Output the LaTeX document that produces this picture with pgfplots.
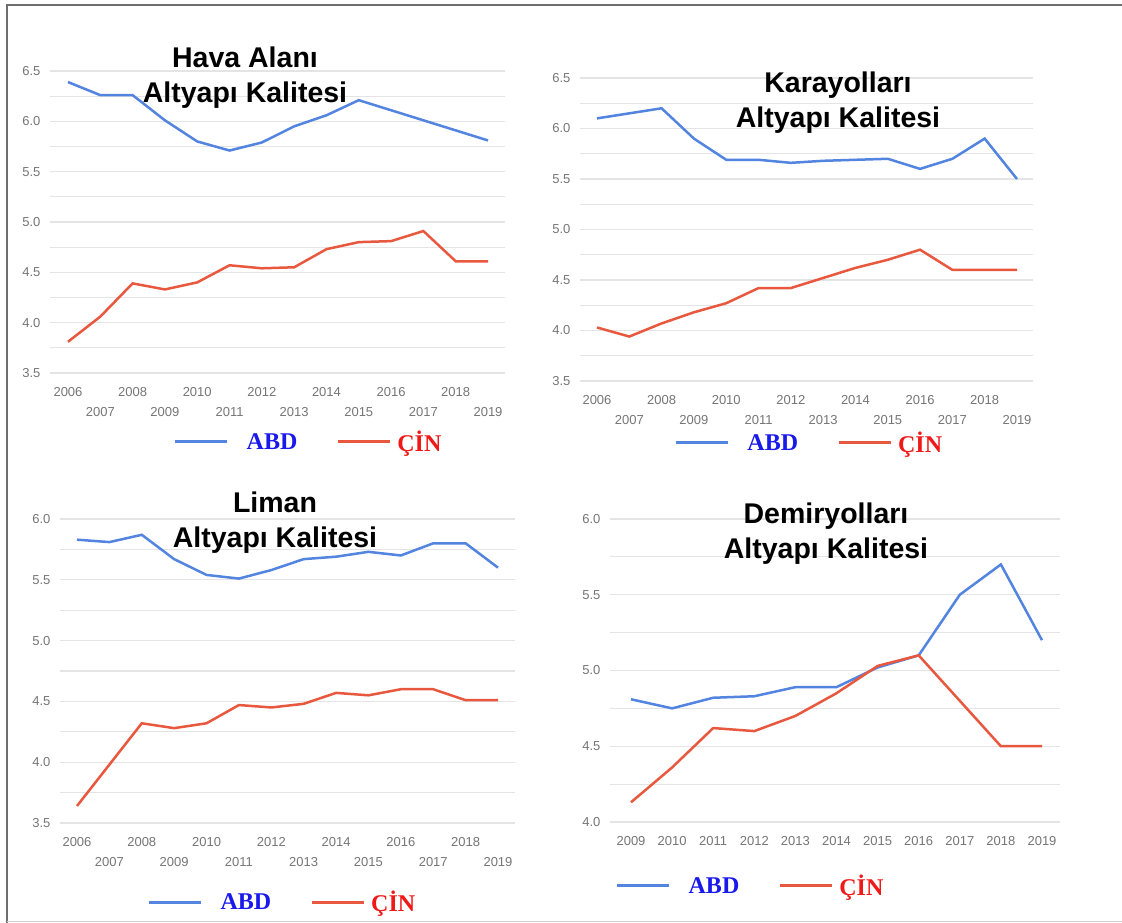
\documentclass[border=0pt]{standalone}
\usepackage{pgfplots}
\pgfplotsset{compat=1.18}
\usepackage{fontspec}
\setmainfont{Liberation Sans}
\newfontfamily\legfont{Liberation Serif}
\definecolor{abd}{RGB}{82,132,224}
\definecolor{cin}{RGB}{232,88,62}
\definecolor{abdtxt}{RGB}{25,25,235}
\definecolor{cintxt}{RGB}{240,25,25}
\definecolor{gridc}{RGB}{228,228,228}
\definecolor{tickc}{RGB}{118,118,118}
\definecolor{framec}{RGB}{110,110,110}

\pgfplotsset{
  panel/.style={
    scale only axis,
    axis line style={draw=none},
    major tick length=0pt, minor tick length=0pt,
    ymajorgrids, yminorgrids, minor y tick num=1,
    major grid style={gridc, line width=1.2pt},
    minor grid style={gridc, line width=1.2pt},
    tick label style={font=\fontsize{13}{15}\selectfont, text=tickc},
    /pgf/number format/assume math mode=true,
    /pgf/number format/1000 sep={},
    yticklabel style={/pgf/number format/fixed, /pgf/number format/fixed zerofill, /pgf/number format/precision=1, xshift=-6pt},
    xticklabel style={yshift=-11pt},
    title style={font=\bfseries\fontsize{28.5}{35}\selectfont, align=center, anchor=center, inner sep=0pt, yshift=-6.5pt},
    legend columns=2,
    legend style={draw=none, fill=none, inner sep=0pt, anchor=center,
      nodes={inner sep=0pt},
      font=\legfont\bfseries\fontsize{24}{24}\selectfont,
      /tikz/every odd column/.append style={column sep=6pt},
      /tikz/every even column/.append style={column sep=39pt}},
    legend image code/.code={\draw[#1, line width=3pt] (0pt,0pt) -- (52pt,0pt);},
    every axis plot/.append style={line width=2.5pt, mark=none},
  },
  stag/.style={
    xtick={2006,2008,...,2018},
    extra x ticks={2007,2009,...,2019},
    extra x tick style={grid=none, xticklabel style={yshift=-20pt}},
  },
}

\begin{document}
\begin{tikzpicture}[x=1pt,y=1pt]
\fill[white] (0,0) rectangle (1122,923);

% Panel 1: Hava Alani
\begin{axis}[panel, stag, at={(50pt,550pt)}, anchor=origin,
  width=455pt, height=302pt,
  xmin=2005.443, xmax=2019.526, ymin=3.5, ymax=6.5,
  ytick={3.5,4,...,6.5},
  title={Hava Alanı\\Altyapı Kalitesi},
  title style={at={(0.4286,0.980)}},
  legend style={at={(0.566,-0.2285)}}]
\addplot[abd] coordinates {(2006,6.39) (2007,6.26) (2008,6.26) (2009,6.01) (2010,5.80) (2011,5.71) (2012,5.79) (2013,5.95) (2014,6.06) (2015,6.21) (2016,6.11) (2017,6.01) (2018,5.91) (2019,5.81)};
\addlegendentry{\textcolor{abdtxt}{\hspace*{12pt}ABD}}
\addplot[cin] coordinates {(2006,3.81) (2007,4.06) (2008,4.39) (2009,4.33) (2010,4.40) (2011,4.57) (2012,4.54) (2013,4.55) (2014,4.73) (2015,4.80) (2016,4.81) (2017,4.91) (2018,4.61) (2019,4.61)};
\addlegendentry{\textcolor{cintxt}{ÇİN}}
\end{axis}

% Panel 2: Karayollari
\begin{axis}[panel, stag, at={(580pt,542pt)}, anchor=origin,
  width=453pt, height=303pt,
  xmin=2005.474, xmax=2019.495, ymin=3.5, ymax=6.5,
  ytick={3.5,4,...,6.5},
  title={Karayolları\\Altyapı Kalitesi},
  title style={at={(0.5695,0.9205)}},
  legend style={at={(0.504,-0.2046)}}]
\addplot[abd] coordinates {(2006,6.10) (2007,6.15) (2008,6.20) (2009,5.90) (2010,5.69) (2011,5.69) (2012,5.66) (2013,5.68) (2014,5.69) (2015,5.70) (2016,5.60) (2017,5.70) (2018,5.90) (2019,5.50)};
\addlegendentry{\textcolor{abdtxt}{\hspace*{12pt}ABD}}
\addplot[cin] coordinates {(2006,4.03) (2007,3.94) (2008,4.07) (2009,4.18) (2010,4.27) (2011,4.42) (2012,4.42) (2013,4.52) (2014,4.62) (2015,4.70) (2016,4.80) (2017,4.60) (2018,4.60) (2019,4.60)};
\addlegendentry{\textcolor{cintxt}{ÇİN}}
\end{axis}

% Panel 3: Liman
\begin{axis}[panel, stag, at={(60pt,100pt)}, anchor=origin,
  width=455pt, height=304pt,
  xmin=2005.475, xmax=2019.525, ymin=3.5, ymax=6.0,
  ytick={3.5,4,...,6.0},
  title={Liman\\Altyapı Kalitesi},
  title style={at={(0.4725,0.9898)}},
  legend style={at={(0.4865,-0.26)}}]
\addplot[abd] coordinates {(2006,5.83) (2007,5.81) (2008,5.87) (2009,5.67) (2010,5.54) (2011,5.51) (2012,5.58) (2013,5.67) (2014,5.69) (2015,5.73) (2016,5.70) (2017,5.80) (2018,5.80) (2019,5.60)};
\addlegendentry{\textcolor{abdtxt}{\hspace*{12pt}ABD}}
\addplot[cin] coordinates {(2006,3.64) (2007,3.98) (2008,4.32) (2009,4.28) (2010,4.32) (2011,4.47) (2012,4.45) (2013,4.48) (2014,4.57) (2015,4.55) (2016,4.60) (2017,4.60) (2018,4.51) (2019,4.51)};
\addlegendentry{\textcolor{cintxt}{ÇİN}}
\end{axis}

% Panel 4: Demiryollari
\begin{axis}[panel, at={(610pt,101pt)}, anchor=origin,
  width=450pt, height=303pt,
  xmin=2008.489, xmax=2019.438, ymin=4.0, ymax=6.0,
  ytick={4,4.5,...,6.0}, xtick={2009,2010,...,2019},
  title={Demiryolları\\Altyapı Kalitesi},
  title style={at={(0.48,0.9535)}},
  legend style={at={(0.31,-0.211)}}]
\addplot[abd] coordinates {(2009,4.81) (2010,4.75) (2011,4.82) (2012,4.83) (2013,4.89) (2014,4.89) (2015,5.02) (2016,5.10) (2017,5.50) (2018,5.70) (2019,5.20)};
\addlegendentry{\textcolor{abdtxt}{\hspace*{12pt}ABD}}
\addplot[cin] coordinates {(2009,4.13) (2010,4.36) (2011,4.62) (2012,4.60) (2013,4.70) (2014,4.85) (2015,5.03) (2016,5.10) (2017,4.80) (2018,4.50) (2019,4.50)};
\addlegendentry{\textcolor{cintxt}{ÇİN}}
\end{axis}

\draw[framec, line width=2pt] (7,0) -- (7,918) -- (1122,918);
\draw[gray!35, line width=1pt] (7,1.5) -- (1122,1.5);
\pgfresetboundingbox
\path (0,0) rectangle (1122,923);
\end{tikzpicture}
\end{document}
